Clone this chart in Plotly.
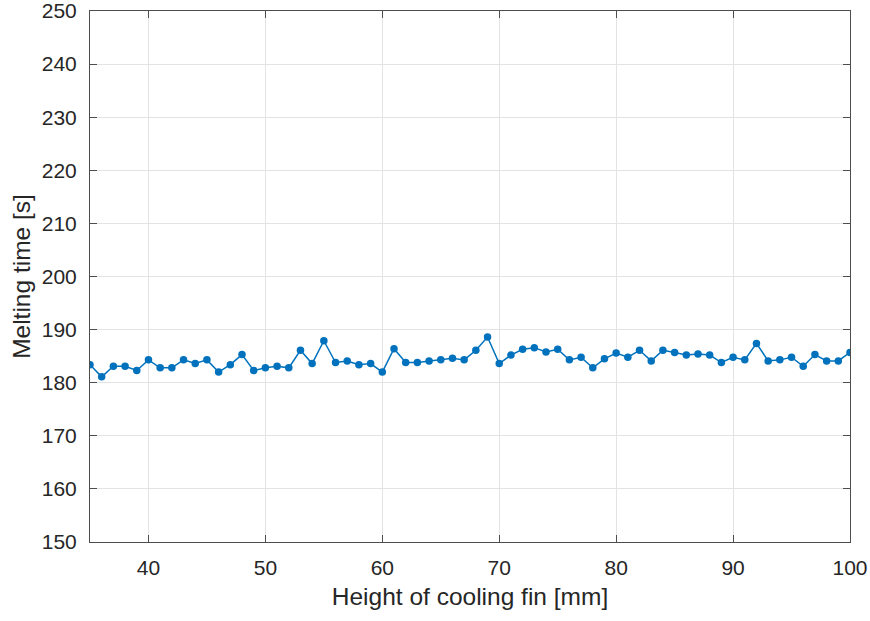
import plotly.graph_objects as go

# Fin height (mm) and corresponding melting time (s)
fin_height = list(range(35, 101))
melt_time = [
    183.4, 181.1, 183.1, 183.1, 182.3, 184.3, 182.8, 182.8, 184.3, 183.6,
    184.3, 182.0, 183.4, 185.3, 182.3, 182.8, 183.1, 182.8, 186.1, 183.6,
    187.9, 183.8, 184.1, 183.4, 183.6, 182.0, 186.4, 183.8, 183.8, 184.1,
    184.3, 184.6, 184.3, 186.1, 188.6, 183.6, 185.2, 186.3, 186.6, 185.8,
    186.3, 184.3, 184.8, 182.8, 184.5, 185.6, 184.8, 186.1, 184.1, 186.1,
    185.7, 185.2, 185.4, 185.2, 183.8, 184.8, 184.3, 187.4, 184.1, 184.3,
    184.8, 183.1, 185.3, 184.1, 184.1, 185.7,
]
x_ticks = [40, 50, 60, 70, 80, 90, 100]
y_ticks = [150, 160, 170, 180, 190, 200, 210, 220, 230, 240, 250]

FONT = "Liberation Sans, Arial, sans-serif"
TEXT_COLOR = "#262626"

fig = go.Figure(
    go.Scatter(
        x=fin_height,
        y=melt_time,
        mode="lines+markers",
        line=dict(color="#0072BD", width=1.5),
        marker=dict(color="#0072BD", size=7.5),
        showlegend=False,
    )
)

axis_common = dict(
    showgrid=True,
    gridcolor="#E3E3E3",
    gridwidth=1,
    showline=True,
    linecolor="#4D4D4D",
    linewidth=1,
    mirror="ticks",
    ticks="inside",
    ticklen=7,
    tickcolor="#4D4D4D",
    zeroline=False,
    automargin=False,
    ticklabeloverflow="allow",
    tickfont=dict(family=FONT, size=21, color=TEXT_COLOR),
)

fig.update_xaxes(
    range=[35, 100],
    tickvals=x_ticks,
    ticklabelstandoff=7,
    title=dict(text="Height of cooling fin [mm]", standoff=9,
               font=dict(family=FONT, size=24.5, color=TEXT_COLOR)),
    **axis_common,
)
fig.update_yaxes(
    range=[150, 250],
    tickvals=y_ticks,
    ticklabelstandoff=8,
    title=dict(text="Melting time [s]", standoff=4,
               font=dict(family=FONT, size=24.5, color=TEXT_COLOR)),
    **axis_common,
)

fig.update_layout(
    width=870,
    height=621,
    margin=dict(l=90, r=20, t=11, b=79),
    plot_bgcolor="white",
    paper_bgcolor="white",
)

fig.write_html("out.html")
